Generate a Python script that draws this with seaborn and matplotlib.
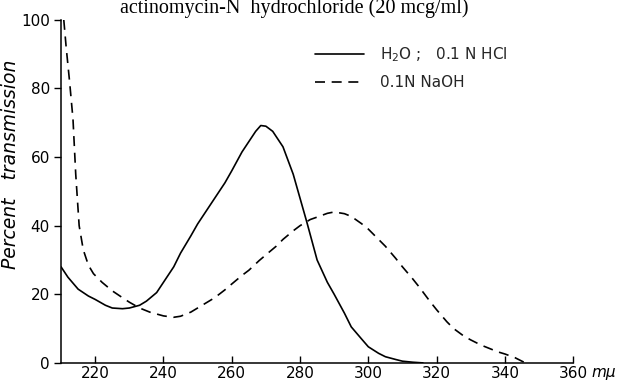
import matplotlib
matplotlib.use("Agg")
import matplotlib.pyplot as plt
import pandas as pd
import seaborn as sns

# H2O ; 0.1 N HCl  (solid)
hcl_nm = [210, 212, 215, 218, 220, 223, 225, 228, 230, 233, 235, 238, 240, 243,
          245, 248, 250, 253, 255, 258, 260, 263, 265, 267, 268.5, 270, 272,
          275, 278, 280, 282, 285, 288, 290, 293, 295, 298, 300, 303, 305,
          308, 310, 313, 316]
hcl_pct = [28, 25, 21.5, 19.5, 18.5, 16.8, 16, 15.8, 16, 16.8, 18, 20.5, 23.5, 28,
           32, 37, 40.5, 45, 48, 52.5, 56, 61.5, 64.5, 67.5, 69.2, 69, 67.5,
           63, 55, 48, 41, 30, 23.5, 20, 14.5, 10.5, 7, 4.7, 2.8, 1.8,
           1, 0.5, 0.2, 0]

# 0.1 N NaOH  (dashed)
naoh_nm = [210.8, 211.5, 212.5, 213.5, 214.3, 215.3, 216.5, 218, 219.5, 222,
           225, 228, 230, 233, 236, 240, 243, 245, 248, 250, 253, 255, 258,
           260, 263, 265, 268, 270, 273, 275, 278, 280, 283, 285, 288, 290,
           293, 295, 298, 300, 303, 305, 308, 310, 313, 315, 318, 320, 323,
           325, 328, 330, 333, 335, 338, 340, 343, 346]
naoh_pct = [100, 92, 82, 71, 55, 40, 33, 28.5, 26, 23.5,
            21, 19, 17.7, 16, 14.8, 13.7, 13.3, 13.6, 14.8, 16, 17.8, 19, 21.3,
            23, 25.5, 27, 29.8, 31.5, 34, 36, 38.5, 40, 41.8, 42.5, 43.6, 44,
            43.5, 42.7, 40.6, 39, 36, 34, 30.5, 28, 24.5, 22, 18, 15.5, 12,
            10, 7.8, 6.7, 5.2, 4.4, 3.2, 2.6, 1.5, 0]

hcl = pd.DataFrame({"nm": hcl_nm, "pct": hcl_pct})
naoh = pd.DataFrame({"nm": naoh_nm, "pct": naoh_pct})

sns.set_theme(style="ticks")
plt.rcParams["font.family"] = ["DejaVu Sans"]

fig = plt.figure(figsize=(6.23, 3.82), dpi=100)
ax = fig.add_axes([0.098, 0.05, 0.822, 0.898])

sns.lineplot(data=hcl, x="nm", y="pct", sort=False, color="black",
             linewidth=1.2, ax=ax, label="H$_2$O ;   0.1 N HCl")
sns.lineplot(data=naoh, x="nm", y="pct", sort=False, color="black",
             linewidth=1.2, linestyle=(0, (6, 4)), ax=ax, label="0.1N NaOH")

ax.set_xlim(210, 360)
ax.set_ylim(0, 100)
ax.set_xticks(range(220, 361, 20))
ax.set_yticks(range(0, 101, 20))
ax.tick_params(axis="x", direction="in", length=5, width=1, labelsize=11,
               colors="black", pad=2)
ax.tick_params(axis="y", direction="out", length=5, width=1, labelsize=11,
               colors="black", pad=3)
sns.despine(ax=ax)
for s in ["left", "bottom"]:
    ax.spines[s].set_color("black")
    ax.spines[s].set_linewidth(1.1)

ax.set_xlabel("")
ax.set_ylabel("Percent   transmission", fontsize=13.5, style="italic",
              color="black")
ax.yaxis.set_label_coords(-0.08, 0.58)
ax.text(1.036, -0.028, "m\u03bc", transform=ax.transAxes, fontsize=11,
        style="italic", va="center", ha="left", color="black")

ax.legend(loc="upper left", bbox_to_anchor=(0.47, 0.965), frameon=False,
          handlelength=3.2, fontsize=11, labelspacing=0.7, handletextpad=1.0)

fig.text(0.473, 0.965, "actinomycin-N  hydrochloride (20 mcg/ml)",
         family="Liberation Serif", fontsize=14.5, ha="center", va="baseline",
         color="black")

fig.savefig("out.png", dpi=100, facecolor="white")
